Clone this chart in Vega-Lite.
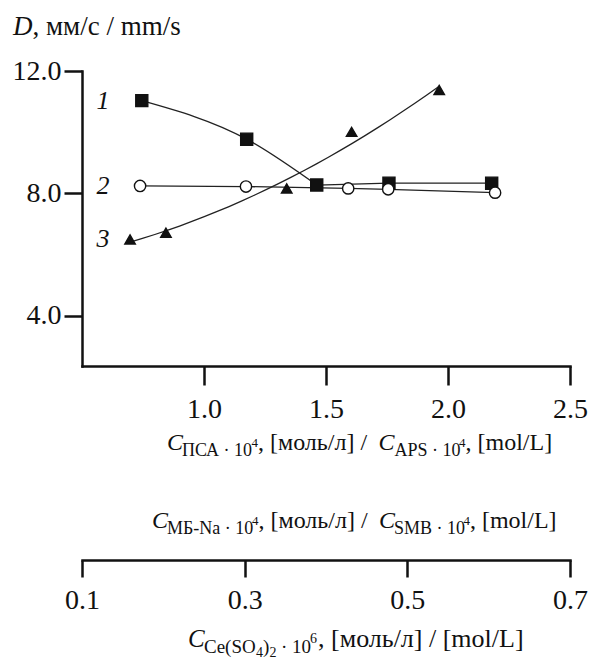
{
  "$schema": "https://vega.github.io/schema/vega-lite/v6.json",
  "width": 488,
  "height": 295,
  "autosize": {"type": "none"},
  "padding": {"left": 82, "top": 71, "right": 22, "bottom": 294},
  "background": "white",
  "config": {
    "view": {"stroke": null},
    "axis": {
      "labelFont": "Liberation Serif",
      "labelFontSize": 28,
      "labelColor": "#111",
      "domainColor": "#111",
      "tickColor": "#111",
      "domainWidth": 2.5,
      "tickWidth": 2.5,
      "domainCap": "square",
      "grid": false,
      "title": null
    },
    "style": {"guide-label": {"font": "Liberation Serif"}},
    "text": {"font": "Liberation Serif", "color": "#111", "align": "left", "baseline": "alphabetic"}
  },
  "datasets": {
    "points": [
      {"series": "1", "c": 0.745, "d": 11.03},
      {"series": "1", "c": 1.175, "d": 9.77},
      {"series": "1", "c": 1.462, "d": 8.27},
      {"series": "1", "c": 1.758, "d": 8.33},
      {"series": "1", "c": 2.179, "d": 8.33},
      {"series": "2", "c": 0.738, "d": 8.24},
      {"series": "2", "c": 1.172, "d": 8.22},
      {"series": "2", "c": 1.591, "d": 8.16},
      {"series": "2", "c": 1.755, "d": 8.13},
      {"series": "2", "c": 2.193, "d": 8.02},
      {"series": "3", "c": 0.697, "d": 6.49},
      {"series": "3", "c": 0.844, "d": 6.71},
      {"series": "3", "c": 1.339, "d": 8.16},
      {"series": "3", "c": 1.605, "d": 10.01},
      {"series": "3", "c": 1.964, "d": 11.38}
    ]
  },
  "layer": [
    {
      "layer": [
        {
          "data": {"name": "points"},
          "transform": [{"filter": "datum.series === '1' && datum.c < 1.5"}],
          "mark": {"type": "line", "interpolate": "monotone", "color": "#222", "strokeWidth": 1.3},
          "encoding": {
            "x": {
              "field": "c", "type": "quantitative",
              "scale": {"domain": [0.5, 2.5], "nice": false, "zero": false},
              "axis": {"values": [1, 1.5, 2, 2.5], "format": ".1f", "title": null, "tickSize": 19, "labelPadding": 10, "labelFlush": false, "labelOverlap": false, "labelFont": "Liberation Serif"}
            },
            "y": {
              "field": "d", "type": "quantitative",
              "scale": {"domain": [2.35, 12], "nice": false, "zero": false},
              "axis": {"values": [4, 8, 12], "format": ".1f", "title": null, "tickSize": 18, "labelPadding": 3, "labelOverlap": false, "labelFont": "Liberation Serif"}
            }
          }
        },
        {
          "data": {"name": "points"},
          "transform": [{"filter": "(datum.series === '1' && datum.c > 1.4) || datum.series === '2'"}],
          "mark": {"type": "line", "color": "#222", "strokeWidth": 1.3},
          "encoding": {
            "x": {"field": "c", "type": "quantitative", "axis": {"title": null}},
            "y": {"field": "d", "type": "quantitative", "axis": {"title": null}},
            "detail": {"field": "series"}
          }
        },
        {
          "data": {"name": "points"},
          "transform": [
            {"filter": "datum.series === '3'"},
            {"regression": "d", "on": "c", "method": "poly", "order": 2}
          ],
          "mark": {"type": "line", "color": "#222", "strokeWidth": 1.3},
          "encoding": {
            "x": {"field": "c", "type": "quantitative", "axis": {"title": null}},
            "y": {"field": "d", "type": "quantitative", "axis": {"title": null}}
          }
        },
        {
          "data": {"name": "points"},
          "mark": {"type": "point", "filled": true, "stroke": "#111", "strokeWidth": 1.4, "opacity": 1},
          "encoding": {
            "x": {"field": "c", "type": "quantitative", "axis": {"title": null}},
            "y": {"field": "d", "type": "quantitative", "axis": {"title": null}},
            "shape": {"field": "series", "type": "nominal", "scale": {"domain": ["1", "2", "3"], "range": ["square", "circle", "triangle-up"]}, "legend": null},
            "fill": {"field": "series", "type": "nominal", "scale": {"domain": ["1", "2", "3"], "range": ["#111", "#ffffff", "#111"]}, "legend": null},
            "size": {"field": "series", "type": "nominal", "scale": {"domain": ["1", "2", "3"], "range": [145, 110, 140]}, "legend": null}
          }
        },
        {
          "data": {"name": "points"},
          "transform": [
            {"joinaggregate": [{"op": "min", "field": "c", "as": "c0"}], "groupby": ["series"]},
            {"filter": "datum.c === datum.c0"}
          ],
          "mark": {"type": "text", "font": "Liberation Serif", "fontStyle": "italic", "fontSize": 26, "align": "center", "baseline": "middle"},
          "encoding": {
            "x": {"datum": 0.586, "type": "quantitative", "axis": {"title": null}},
            "y": {"field": "d", "type": "quantitative", "axis": {"title": null}},
            "text": {"field": "series"}
          }
        },
        {"data": {"values": [{}]}, "mark": {"type": "text", "text": "D", "font": "Liberation Serif", "fontStyle": "italic", "fontSize": 27},
         "encoding": {"x": {"datum": 0.2172, "type": "quantitative", "axis": {"title": null}}, "y": {"datum": 13.178, "type": "quantitative", "axis": {"title": null}}}},
        {"data": {"values": [{}]}, "mark": {"type": "text", "text": ", мм/с / mm/s", "font": "Liberation Serif", "fontSize": 27},
         "encoding": {"x": {"datum": 0.2971, "type": "quantitative", "axis": {"title": null}}, "y": {"datum": 13.178, "type": "quantitative", "axis": {"title": null}}}},
        {"data": {"values": [{}]}, "mark": {"type": "text", "text": "C", "font": "Liberation Serif", "fontStyle": "italic", "fontSize": 24},
         "encoding": {"x": {"datum": 0.8484, "type": "quantitative", "axis": {"title": null}}, "y": {"datum": -0.398, "type": "quantitative", "axis": {"title": null}}}},
        {"data": {"values": [{}]}, "mark": {"type": "text", "text": "ПСА · 10", "font": "Liberation Serif", "fontSize": 18},
         "encoding": {"x": {"datum": 0.9099, "type": "quantitative", "axis": {"title": null}}, "y": {"datum": -0.594, "type": "quantitative", "axis": {"title": null}}}},
        {"data": {"values": [{}]}, "mark": {"type": "text", "text": "4", "font": "Liberation Serif", "fontSize": 13},
         "encoding": {"x": {"datum": 1.1947, "type": "quantitative", "axis": {"title": null}}, "y": {"datum": -0.300, "type": "quantitative", "axis": {"title": null}}}},
        {"data": {"values": [{}]}, "mark": {"type": "text", "text": ", [моль/л]  /", "font": "Liberation Serif", "fontSize": 24},
         "encoding": {"x": {"datum": 1.2213, "type": "quantitative", "axis": {"title": null}}, "y": {"datum": -0.398, "type": "quantitative", "axis": {"title": null}}}},
        {"data": {"values": [{}]}, "mark": {"type": "text", "text": "C", "font": "Liberation Serif", "fontStyle": "italic", "fontSize": 24},
         "encoding": {"x": {"datum": 1.7152, "type": "quantitative", "axis": {"title": null}}, "y": {"datum": -0.398, "type": "quantitative", "axis": {"title": null}}}},
        {"data": {"values": [{}]}, "mark": {"type": "text", "text": "APS · 10", "font": "Liberation Serif", "fontSize": 18},
         "encoding": {"x": {"datum": 1.7808, "type": "quantitative", "axis": {"title": null}}, "y": {"datum": -0.594, "type": "quantitative", "axis": {"title": null}}}},
        {"data": {"values": [{}]}, "mark": {"type": "text", "text": "4", "font": "Liberation Serif", "fontSize": 13},
         "encoding": {"x": {"datum": 2.0451, "type": "quantitative", "axis": {"title": null}}, "y": {"datum": -0.300, "type": "quantitative", "axis": {"title": null}}}},
        {"data": {"values": [{}]}, "mark": {"type": "text", "text": ", [mol/L]", "font": "Liberation Serif", "fontSize": 24},
         "encoding": {"x": {"datum": 2.0718, "type": "quantitative", "axis": {"title": null}}, "y": {"datum": -0.398, "type": "quantitative", "axis": {"title": null}}}}
      ]
    },
    {
      "layer": [
        {"data": {"values": [{}]}, "mark": {"type": "text", "text": "C", "font": "Liberation Serif", "fontStyle": "italic", "fontSize": 24},
         "encoding": {
           "x": {"datum": 0.1860, "type": "quantitative",
                 "scale": {"domain": [0.1, 0.7], "nice": false, "zero": false},
                 "axis": {"orient": "bottom", "offset": 194, "values": [0.1, 0.3, 0.5, 0.7], "format": ".1f", "title": null, "tickSize": 17, "labelPadding": 9, "labelFlush": false, "labelOverlap": false, "labelFont": "Liberation Serif"}},
           "y": {"datum": -2.949, "type": "quantitative", "axis": {"title": null}}}},
        {"data": {"values": [{}]}, "mark": {"type": "text", "text": "МБ-Na · 10", "font": "Liberation Serif", "fontSize": 18},
         "encoding": {"x": {"datum": 0.2045, "type": "quantitative", "axis": {"title": null}}, "y": {"datum": -3.146, "type": "quantitative", "axis": {"title": null}}}},
        {"data": {"values": [{}]}, "mark": {"type": "text", "text": "4", "font": "Liberation Serif", "fontSize": 13},
         "encoding": {"x": {"datum": 0.3090, "type": "quantitative", "axis": {"title": null}}, "y": {"datum": -2.851, "type": "quantitative", "axis": {"title": null}}}},
        {"data": {"values": [{}]}, "mark": {"type": "text", "text": ", [моль/л]  /", "font": "Liberation Serif", "fontSize": 24},
         "encoding": {"x": {"datum": 0.3170, "type": "quantitative", "axis": {"title": null}}, "y": {"datum": -2.949, "type": "quantitative", "axis": {"title": null}}}},
        {"data": {"values": [{}]}, "mark": {"type": "text", "text": "C", "font": "Liberation Serif", "fontStyle": "italic", "fontSize": 24},
         "encoding": {"x": {"datum": 0.4651, "type": "quantitative", "axis": {"title": null}}, "y": {"datum": -2.949, "type": "quantitative", "axis": {"title": null}}}},
        {"data": {"values": [{}]}, "mark": {"type": "text", "text": "SMB · 10", "font": "Liberation Serif", "fontSize": 18},
         "encoding": {"x": {"datum": 0.4836, "type": "quantitative", "axis": {"title": null}}, "y": {"datum": -3.146, "type": "quantitative", "axis": {"title": null}}}},
        {"data": {"values": [{}]}, "mark": {"type": "text", "text": "4", "font": "Liberation Serif", "fontSize": 13},
         "encoding": {"x": {"datum": 0.5690, "type": "quantitative", "axis": {"title": null}}, "y": {"datum": -2.851, "type": "quantitative", "axis": {"title": null}}}},
        {"data": {"values": [{}]}, "mark": {"type": "text", "text": ", [mol/L]", "font": "Liberation Serif", "fontSize": 24},
         "encoding": {"x": {"datum": 0.5770, "type": "quantitative", "axis": {"title": null}}, "y": {"datum": -2.949, "type": "quantitative", "axis": {"title": null}}}},
        {"data": {"values": [{}]}, "mark": {"type": "text", "text": "C", "font": "Liberation Serif", "fontStyle": "italic", "fontSize": 25},
         "encoding": {"x": {"datum": 0.2303, "type": "quantitative", "axis": {"title": null}}, "y": {"datum": -6.842, "type": "quantitative", "axis": {"title": null}}}},
        {"data": {"values": [{}]}, "mark": {"type": "text", "text": "Ce(SO", "font": "Liberation Serif", "fontSize": 19},
         "encoding": {"x": {"datum": 0.2500, "type": "quantitative", "axis": {"title": null}}, "y": {"datum": -7.038, "type": "quantitative", "axis": {"title": null}}}},
        {"data": {"values": [{}]}, "mark": {"type": "text", "text": "4", "font": "Liberation Serif", "fontSize": 14},
         "encoding": {"x": {"datum": 0.3139, "type": "quantitative", "axis": {"title": null}}, "y": {"datum": -7.169, "type": "quantitative", "axis": {"title": null}}}},
        {"data": {"values": [{}]}, "mark": {"type": "text", "text": ")", "font": "Liberation Serif", "fontSize": 19},
         "encoding": {"x": {"datum": 0.3225, "type": "quantitative", "axis": {"title": null}}, "y": {"datum": -7.038, "type": "quantitative", "axis": {"title": null}}}},
        {"data": {"values": [{}]}, "mark": {"type": "text", "text": "2", "font": "Liberation Serif", "fontSize": 14},
         "encoding": {"x": {"datum": 0.3305, "type": "quantitative", "axis": {"title": null}}, "y": {"datum": -7.169, "type": "quantitative", "axis": {"title": null}}}},
        {"data": {"values": [{}]}, "mark": {"type": "text", "text": "· 10", "font": "Liberation Serif", "fontSize": 19},
         "encoding": {"x": {"datum": 0.3447, "type": "quantitative", "axis": {"title": null}}, "y": {"datum": -7.038, "type": "quantitative", "axis": {"title": null}}}},
        {"data": {"values": [{}]}, "mark": {"type": "text", "text": "6", "font": "Liberation Serif", "fontSize": 14},
         "encoding": {"x": {"datum": 0.3803, "type": "quantitative", "axis": {"title": null}}, "y": {"datum": -6.711, "type": "quantitative", "axis": {"title": null}}}},
        {"data": {"values": [{}]}, "mark": {"type": "text", "text": ", [моль/л] / [mol/L]", "font": "Liberation Serif", "fontSize": 26},
         "encoding": {"x": {"datum": 0.3902, "type": "quantitative", "axis": {"title": null}}, "y": {"datum": -6.842, "type": "quantitative", "axis": {"title": null}}}}
      ]
    }
  ],
  "resolve": {"scale": {"x": "independent"}}
}
